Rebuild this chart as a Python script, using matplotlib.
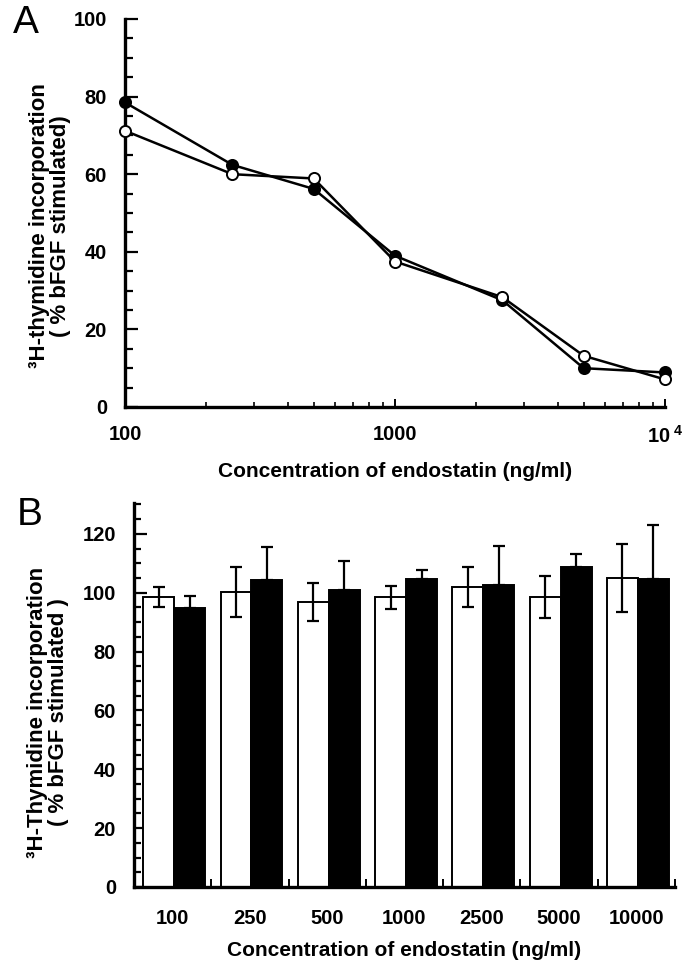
import matplotlib
matplotlib.use("Agg")
import matplotlib.pyplot as plt
from matplotlib.ticker import MultipleLocator, FixedLocator, NullFormatter, LogLocator
import numpy as np

plt.rcParams['font.family'] = ['Liberation Sans', 'DejaVu Sans']
plt.rcParams['font.weight'] = 'bold'
plt.rcParams['mathtext.fontset'] = 'custom'
plt.rcParams['mathtext.rm'] = 'Liberation Sans:bold'
plt.rcParams['mathtext.it'] = 'Liberation Sans:bold'
plt.rcParams['mathtext.bf'] = 'Liberation Sans:bold'

# ---- Panel A data ----
conc_a = [100, 250, 500, 1000, 2500, 5000, 10000]
filled_a = [78.5, 62.4, 56.2, 39.0, 27.5, 10.0, 8.9]
open_a = [71.2, 60.0, 58.9, 37.5, 28.3, 13.2, 7.1]
a_xticks = [100, 1000, 10000]
a_xticklabels = ['100', '1000', r'$\mathregular{10^{\ 4}}$']
a_yticks = [0, 20, 40, 60, 80, 100]

# ---- Panel B data ----
b_labels = ['100', '250', '500', '1000', '2500', '5000', '10000']
white_b = [98.5, 100.3, 96.8, 98.5, 101.9, 98.5, 105.1]
white_err = [3.4, 8.6, 6.5, 3.9, 6.9, 7.2, 11.6]
black_b = [94.9, 104.4, 100.8, 104.6, 102.5, 108.9, 104.8]
black_err = [4.0, 11.3, 10.1, 3.2, 13.4, 4.4, 18.3]
b_yticks = [0, 20, 40, 60, 80, 100, 120]

fig = plt.figure(figsize=(6.96, 9.65), dpi=100)

FS_TICK = 14.5
FS_LAB = 15
FS_YLAB = 16

# ===== Panel A =====
axA = fig.add_axes([125/696, 1-407/965, (665-125)/696, (407-19)/965])
axA.plot(conc_a, filled_a, '-o', color='black', lw=1.8, ms=8,
         mfc='black', mec='black', mew=1.4, clip_on=False, zorder=3)
axA.plot(conc_a, open_a, '-o', color='black', lw=1.8, ms=8,
         mfc='white', mec='black', mew=1.4, clip_on=False, zorder=4)
axA.set_xscale('log')
axA.set_xlim(100, 10000)
axA.set_ylim(0, 100)
axA.set_xticks(a_xticks)
axA.set_xticklabels(a_xticklabels)
axA.xaxis.set_minor_locator(LogLocator(base=10, subs=np.arange(2, 10)))
axA.xaxis.set_minor_formatter(NullFormatter())
axA.set_yticks(a_yticks)
axA.yaxis.set_minor_locator(MultipleLocator(5))
for s in ['top', 'right']:
    axA.spines[s].set_visible(False)
for s in ['left', 'bottom']:
    axA.spines[s].set_linewidth(2.4)
axA.tick_params(axis='y', which='major', direction='in', length=9, width=1.6,
                labelsize=FS_TICK, pad=13)
axA.tick_params(axis='y', which='minor', direction='in', length=6, width=1.6)
axA.tick_params(axis='x', which='major', direction='in', length=6, width=1.4,
                labelsize=FS_TICK, pad=13)
axA.tick_params(axis='x', which='minor', direction='in', length=3.5, width=1.2)
axA.set_xlabel('Concentration of endostatin (ng/ml)', fontsize=FS_LAB,
               fontweight='bold', labelpad=11)
fig.text(50/696, 1-226/965, '³H-thymidine incorporation\n( % bFGF stimulated)',
         rotation=90, ha='center', va='center', fontsize=FS_YLAB,
         fontweight='bold', multialignment='center', linespacing=1.05)
fig.text(13/696, 1-5/965, 'A', fontsize=28, fontweight='normal', ha='left', va='top')

# ===== Panel B =====
axB = fig.add_axes([134/696, 1-887/965, (675-134)/696, (887-503)/965])
n = len(b_labels)
x = np.arange(n)
w = 0.4
axB.bar(x - 0.18, white_b, width=w, color='white', edgecolor='black', lw=1.4, zorder=2)
axB.bar(x + 0.22, black_b, width=w, color='black', edgecolor='black', lw=1.4, zorder=2)
axB.errorbar(x - 0.18, white_b, yerr=white_err, fmt='none', ecolor='black',
             elinewidth=1.6, capsize=4, capthick=1.6, zorder=3)
axB.errorbar(x + 0.22, black_b, yerr=[np.zeros(n), black_err], fmt='none', ecolor='black',
             elinewidth=1.6, capsize=4, capthick=1.6, zorder=3)
axB.set_xlim(-0.5, n - 0.5)
axB.set_ylim(0, 130.5)
axB.set_yticks(b_yticks)
axB.yaxis.set_minor_locator(MultipleLocator(5))
bounds = np.arange(-0.5, n, 1.0)
axB.xaxis.set_major_locator(FixedLocator(bounds))
axB.xaxis.set_major_formatter(NullFormatter())
fifths = [b + k * 0.2 for b in bounds[:-1] for k in range(1, 5)]
axB.xaxis.set_minor_locator(FixedLocator(fifths))
for s in ['top', 'right']:
    axB.spines[s].set_visible(False)
for s in ['left', 'bottom']:
    axB.spines[s].set_linewidth(2.4)
axB.tick_params(axis='y', which='major', direction='in', length=9, width=1.6,
                labelsize=FS_TICK, pad=13)
axB.tick_params(axis='y', which='minor', direction='in', length=5, width=1.6)
axB.tick_params(axis='x', which='major', direction='in', length=6, width=1.4)
axB.tick_params(axis='x', which='minor', direction='in', length=3, width=1.2)
secB = axB.secondary_xaxis('bottom')
secB.set_xticks(x)
secB.set_xticklabels(b_labels)
secB.tick_params(length=0, labelsize=FS_TICK, pad=16)
secB.spines['bottom'].set_visible(False)
secB.set_xlabel('Concentration of endostatin (ng/ml)', fontsize=FS_LAB,
                fontweight='bold', labelpad=9)
fig.text(48/696, 1-712/965, '³H-Thymidine incorporation\n( % bFGF stimulated )',
         rotation=90, ha='center', va='center', fontsize=FS_YLAB,
         fontweight='bold', multialignment='center', linespacing=1.05)
fig.text(17/696, 1-497/965, 'B', fontsize=28, fontweight='normal', ha='left', va='top')

fig.savefig('out.png', dpi=100)
